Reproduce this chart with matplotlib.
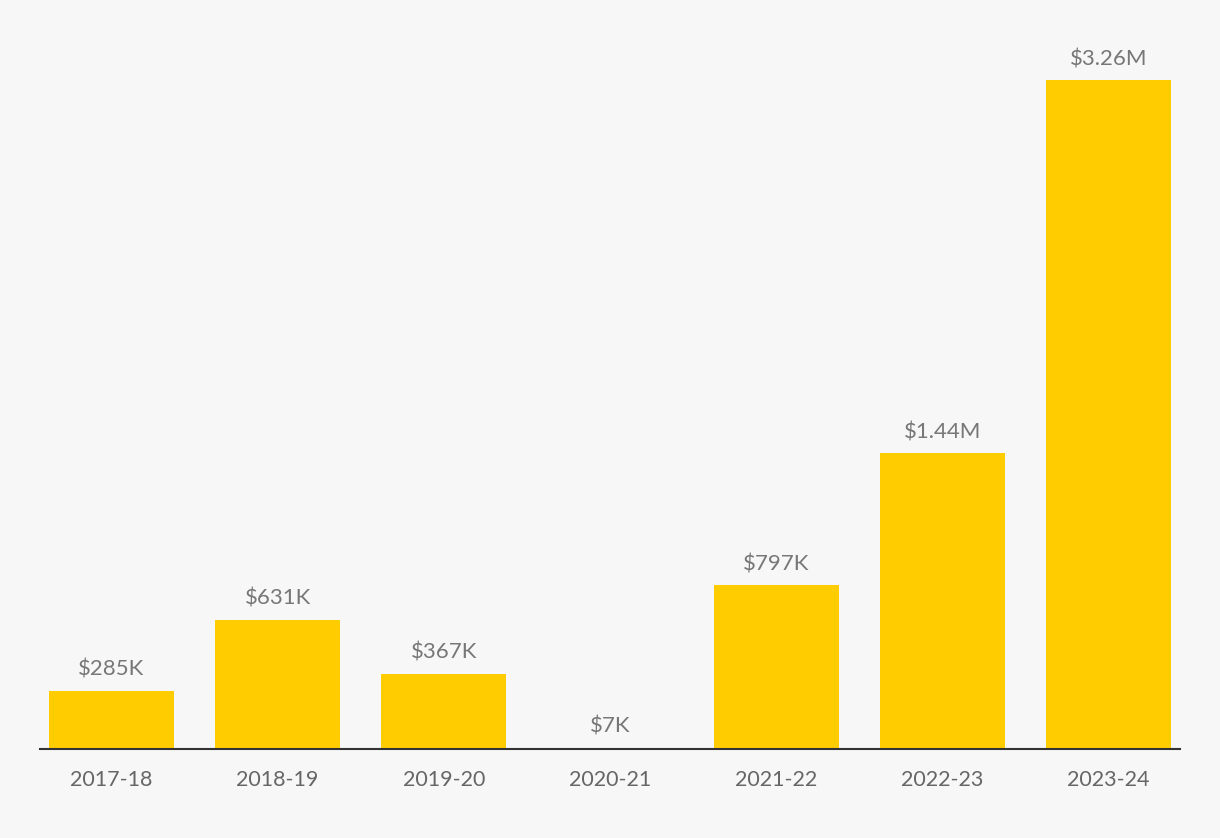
import matplotlib
matplotlib.use('Agg')
import matplotlib.pyplot as plt

years = ['2017-18', '2018-19', '2019-20', '2020-21', '2021-22', '2022-23', '2023-24']
values = [285e3, 631e3, 367e3, 7e3, 797e3, 1.44e6, 3.26e6]
labels = ['$285K', '$631K', '$367K', '$7K', '$797K', '$1.44M', '$3.26M']

bg = '#f7f7f7'
plt.rcParams['font.family'] = ['Lato', 'DejaVu Sans']

fig = plt.figure(figsize=(12.2, 8.38), dpi=100, facecolor=bg)
W, H = 1220, 838
# axes: x 40..1180, baseline y=749, top y=40
ax = fig.add_axes([40 / W, 1 - 749 / H, 1140 / W, (749 - 40) / H])
ax.set_facecolor(bg)

x = list(range(len(years)))
ax.bar(x, values, width=0.753, color='#ffcc00')
for xi, v, lab in zip(x, values, labels):
    ax.annotate(lab, (xi, v), xytext=(0, 11), textcoords='offset pixels',
                ha='center', va='bottom', fontsize=16, color='#777777')

ax.set_xlim(-0.43, 6.43)
ax.set_ylim(0, 3.455e6)
ax.set_xticks(x)
ax.set_xticklabels(years, fontsize=15.5, color='#666666')
ax.tick_params(axis='x', length=0, pad=15)
ax.set_yticks([])
for s in ['top', 'right', 'left']:
    ax.spines[s].set_visible(False)
ax.spines['bottom'].set_color('#333333')
ax.spines['bottom'].set_linewidth(1.5)

fig.savefig('out.png', dpi=100, facecolor=bg)
